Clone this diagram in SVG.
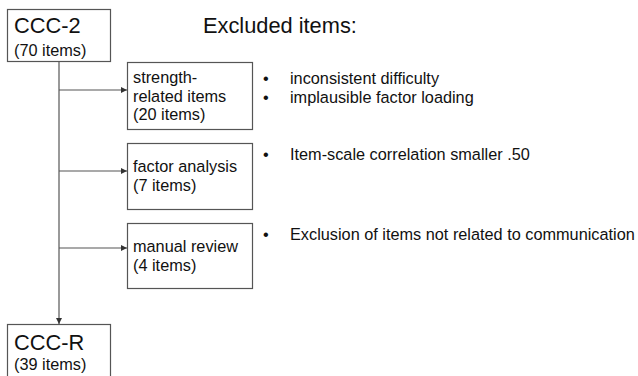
<svg xmlns="http://www.w3.org/2000/svg" width="638" height="376" viewBox="0 0 638 376">
<defs>
<style>
.box{fill:#fff;stroke:#555;stroke-width:1.2}
.t{font-family:"Liberation Sans",Arial,sans-serif;fill:#111}
.big{font-size:21.8px}
.sm{font-size:16.3px}
.ln{stroke:#555;stroke-width:1.2;fill:none}
</style>
<marker id="ah" viewBox="0 0 6 6" refX="6" refY="3" markerWidth="6" markerHeight="6" orient="auto" markerUnits="userSpaceOnUse">
<path d="M0,0 L6,3 L0,6 Z" fill="#333"/>
</marker>
</defs>
<rect width="638" height="376" fill="#fff"/>
<g id="connectors">
<line class="ln" x1="59" y1="62" x2="59" y2="324" marker-end="url(#ah)"/>
<line class="ln" x1="59" y1="90" x2="127" y2="90" marker-end="url(#ah)"/>
<line class="ln" x1="59" y1="171" x2="127" y2="171" marker-end="url(#ah)"/>
<line class="ln" x1="59" y1="248" x2="127" y2="248" marker-end="url(#ah)"/>
</g>
<g id="ccc2">
<rect class="box" x="7.5" y="9.5" width="103" height="52"/>
<text class="t big" x="14" y="33">CCC-2</text>
<text class="t sm" x="14" y="56">(70 items)</text>
</g>
<text id="title" class="t big" x="203" y="33">Excluded items:</text>
<g id="strength">
<rect class="box" x="127.5" y="62.5" width="125" height="67"/>
<text class="t sm" x="133" y="83">strength-</text>
<text class="t sm" x="133" y="101.5">related items</text>
<text class="t sm" x="133" y="120">(20 items)</text>
</g>
<g id="factor">
<rect class="box" x="127.5" y="143.5" width="125" height="66"/>
<text class="t sm" x="133" y="171.5">factor analysis</text>
<text class="t sm" x="133" y="191">(7 items)</text>
</g>
<g id="manual">
<rect class="box" x="127.5" y="223.5" width="125" height="65"/>
<text class="t sm" x="133" y="251.5">manual review</text>
<text class="t sm" x="133" y="271">(4 items)</text>
</g>
<g id="cccr">
<rect class="box" x="7.5" y="324.5" width="103" height="60"/>
<text class="t big" x="14" y="350">CCC-R</text>
<text class="t sm" x="14" y="370">(39 items)</text>
</g>
<g id="reasons">
<text class="t sm" x="263" y="84">•</text>
<text class="t sm" x="290" y="84">inconsistent difficulty</text>
<text class="t sm" x="263" y="103">•</text>
<text class="t sm" x="290" y="103">implausible factor loading</text>
<text class="t sm" x="263" y="160">•</text>
<text class="t sm" x="290" y="160">Item-scale correlation smaller .50</text>
<text class="t sm" x="263" y="240">•</text>
<text class="t sm" x="290" y="240">Exclusion of items not related to communication</text>
</g>
</svg>
